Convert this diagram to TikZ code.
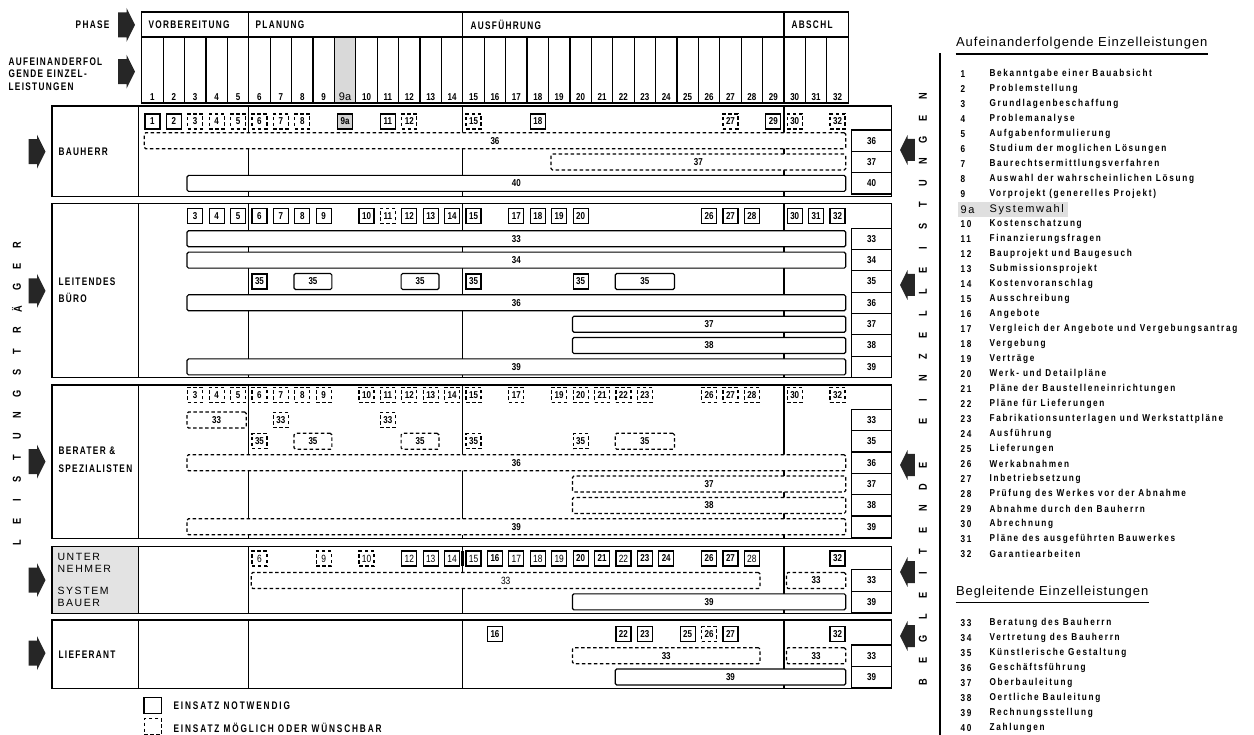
\documentclass[tikz,border=0pt]{standalone}
\usepackage{fontspec}
\setmainfont{Liberation Sans}
\newfontfamily\kopf[FakeStretch=0.75,LetterSpace=12]{Liberation Sans}
\newfontfamily\ziff[FakeStretch=0.8]{Liberation Sans}
\newfontfamily\liste[FakeStretch=0.82,LetterSpace=17]{Liberation Sans}
\newfontfamily\titel[LetterSpace=7.5]{Liberation Sans}
\newfontfamily\duenn[LetterSpace=15]{Liberation Sans}
\newcommand{\zf}{\ziff\bfseries\fontsize{10}{10}\selectfont}
\newcommand{\zd}{\ziff\fontsize{10.5}{10.5}\selectfont}
% bar over the columns #2..#3: style, first, last, y, label, name
\newcommand{\balken}[6]{\node[#1, minimum width={21.41*((#3)-(#2)+1)-5}] (#6) at ({141.7+21.41*((#2)+(#3)+1)/2}, #4) {#5};}
% section frame: top, bottom
\newcommand{\sektion}[2]{\draw (52,#1) rectangle (891.5,#2);
  \draw (138.3,#1) -- (138.3,#2);
  \foreach \i in {5,15,30} \draw ({lx(\i)},#1) -- ({lx(\i)},#2);}
\usetikzlibrary{positioning}
\begin{document}
\begin{tikzpicture}[x=1pt, y=-1pt, line width=1.2pt,
  declare function={lx(\i)=141.7+21.41*\i; sx(\i)=152.4+21.41*\i;},
  nb/.style={draw, fill=white, minimum width=15, minimum height=15, inner sep=1, font=\zf},
  mb/.style={nb, dash pattern=on 3.5pt off 2.5pt},
  gb/.style={nb, fill=gray!35},
  nbd/.style={nb, font=\zd},
  mbd/.style={mb, font=\zd},
  sb/.style={draw, fill=white, rounded corners=1.5pt, minimum height=16, inner sep=0, font=\zf},
  db/.style={sb, dash pattern=on 3.5pt off 2.5pt},
  dbd/.style={db, font=\zd},
  rb/.style={draw, fill=white, minimum width=40, minimum height=21.35, inner sep=0, font=\zf},
  kopftext/.style={inner sep=0, font=\kopf\bfseries\fontsize{11}{12.3}\selectfont},
  grptext/.style={inner sep=0, align=left, anchor=west, font=\kopf\bfseries\fontsize{11}{17}\selectfont},
  unttext/.style={inner sep=0, align=left, anchor=west, font=\duenn\fontsize{10.5}{12.3}\selectfont},
  nrtext/.style={inner sep=0, font=\zf},
  buchst/.style={rotate=90, inner sep=0, font=\ziff\bfseries\fontsize{11.5}{11.5}\selectfont},
  lnr/.style={anchor=west, inner sep=0, font=\liste\bfseries\fontsize{10}{10}\selectfont},
  ltx/.style={anchor=west, inner sep=0, font=\liste\bfseries\fontsize{10}{10}\selectfont},
  legtext/.style={kopftext, anchor=west, font=\kopf\bfseries\fontsize{11}{11}\selectfont\addfontfeatures{LetterSpace=17}},
  pfeil/.pic={\fill[black!85] (-8.5,-12.5) -- (0,-12.5) -- (0,-17) -- (8.5,0) -- (0,17) -- (0,12.5) -- (-8.5,12.5) -- cycle;}]
\useasboundingbox (0,0) rectangle (1254,735);

% header
\fill[gray!30] ({lx(9)},37) rectangle ({lx(10)},103);
\draw (141.7,12) rectangle (848.3,103);
\draw (141.7,37) -- (848.3,37);
\foreach \i in {1,...,32} \draw ({lx(\i)},37) -- ({lx(\i)},103);
\foreach \i in {5,15,30} \draw ({lx(\i)},12) -- ({lx(\i)},37);
\node[kopftext, anchor=west] (ph-vor) at (148,24.5) {VORBEREITUNG};
\node[kopftext, anchor=west] (ph-pla) at (255,24.5) {PLANUNG};
\node[kopftext, anchor=west] (ph-aus) at (470,24.5) {AUSFÜHRUNG};
\node[kopftext, anchor=west] (ph-abs) at (791,24.5) {ABSCHL};
\foreach \l in {1,...,9} \node[nrtext] (nr-\l) at ({sx(\l-1)},97) {\l};
\node[inner sep=0, font=\fontsize{11}{11}\selectfont] (nr-9a) at ({sx(9)},97) {9a};
\foreach \l in {10,...,32} \node[nrtext] (nr-\l) at ({sx(\l)},97) {\l};
\node[kopftext, anchor=east] (lb-phase) at (110,25) {PHASE};
\pic at (126.5,25) {pfeil};
\node[kopftext, anchor=west, align=left] (lb-folge) at (8,74) {AUFEINANDERFOL\\GENDE EINZEL-\\LEISTUNGEN};
\pic at (126.5,71.7) {pfeil};

% Bauherr
\sektion{106}{196.7}
\node[grptext] (g-bh) at (58,151.7) {BAUHERR};
\pic at (37,151.7) {pfeil};
\foreach \i/\l/\s in {0/1/nb, 1/2/nb, 2/3/mb, 3/4/mb, 4/5/mb, 5/6/mb, 6/7/mb, 7/8/mb,
  9/9a/gb, 11/11/nb, 12/12/mb, 15/15/mb, 18/18/nb, 27/27/mb, 29/29/nb, 30/30/mb, 32/32/mb}
  \node[\s] (bh-\i) at ({sx(\i)},121.5) {\l};
\balken{db}{0}{32}{140.7}{36}{bh-b36}
\balken{db}{19}{32}{162.05}{37}{bh-b37}
\balken{sb}{2}{32}{183.4}{40}{bh-b40}
\foreach \l [count=\k from 0] in {36,37,40} \node[rb] (bh-r\l) at (871.5,{140.7+21.35*\k}) {\l};

% Leitendes Buero
\sektion{203.3}{377.7}
\node[grptext] (g-lb) at (58,290.6) {LEITENDES\\BÜRO};
\pic at (37,291) {pfeil};
\foreach \i/\l/\s in {2/3/nb, 3/4/nb, 4/5/nb, 5/6/nb, 6/7/nb, 7/8/nb, 8/9/nb, 10/10/nb, 11/11/mb,
  12/12/nb, 13/13/nb, 14/14/nb, 15/15/nb, 17/17/nb, 18/18/nb, 19/19/nb, 20/20/nb,
  26/26/nb, 27/27/nb, 28/28/nb, 30/30/nb, 31/31/nb, 32/32/nb}
  \node[\s] (lb-\i) at ({sx(\i)},216) {\l};
\balken{sb}{2}{32}{238.8}{33}{lb-b33}
\balken{sb}{2}{32}{260.15}{34}{lb-b34}
\foreach \i in {5,15,20} \node[nb] (lb-k35-\i) at ({sx(\i)},281.5) {35};
\balken{sb}{7}{8}{281.5}{35}{lb-w35a}
\balken{sb}{12}{13}{281.5}{35}{lb-w35b}
\balken{sb}{22}{24}{281.5}{35}{lb-w35c}
\balken{sb}{2}{32}{302.85}{36}{lb-b36}
\balken{sb}{20}{32}{324.2}{37}{lb-b37}
\balken{sb}{20}{32}{345.55}{38}{lb-b38}
\balken{sb}{2}{32}{366.9}{39}{lb-b39}
\foreach \l [count=\k from 0] in {33,34,35,36,37,38,39} \node[rb] (lb-r\l) at (871.5,{238.8+21.35*\k}) {\l};

% Berater und Spezialisten
\sektion{385}{538.3}
\node[grptext, font=\kopf\bfseries\fontsize{11}{18}\selectfont] (g-bs) at (58,460) {BERATER \&\\SPEZIALISTEN};
\pic at (37,461.7) {pfeil};
\foreach \i/\l in {2/3, 3/4, 4/5, 5/6, 6/7, 7/8, 8/9, 10/10, 11/11, 12/12, 13/13, 14/14, 15/15,
  17/17, 19/19, 20/20, 21/21, 22/22, 23/23, 26/26, 27/27, 28/28, 30/30, 32/32}
  \node[mb] (bs-\i) at ({sx(\i)},395) {\l};
\balken{db}{2}{4}{420}{33}{bs-w33}
\foreach \i in {6,11} \node[mb] (bs-k33-\i) at ({sx(\i)},420) {33};
\foreach \i in {5,15,20} \node[mb] (bs-k35-\i) at ({sx(\i)},441.35) {35};
\balken{db}{7}{8}{441.35}{35}{bs-w35a}
\balken{db}{12}{13}{441.35}{35}{bs-w35b}
\balken{db}{22}{24}{441.35}{35}{bs-w35c}
\balken{db}{2}{32}{462.7}{36}{bs-b36}
\balken{db}{20}{32}{484.05}{37}{bs-b37}
\balken{db}{20}{32}{505.4}{38}{bs-b38}
\balken{db}{2}{32}{526.75}{39}{bs-b39}
\foreach \l [count=\k from 0] in {33,35,36,37,38,39} \node[rb] (bs-r\l) at (871.5,{420+21.35*\k}) {\l};

% Unternehmer / Systembauer
\fill[gray!22] (52,546.7) rectangle (138.3,613.3);
\sektion{546.7}{613.3}
\node[unttext] (g-un) at (57,563) {UNTER\\NEHMER};
\node[unttext] (g-sy) at (57,597.2) {SYSTEM\\BAUER};
\pic at (37,580) {pfeil};
\foreach \i/\l/\s in {5/6/mbd, 8/9/mbd, 10/10/mbd, 12/12/nbd, 13/13/nbd, 14/14/nbd, 15/15/nbd,
  16/16/nb, 17/17/nbd, 18/18/nbd, 19/19/nbd, 20/20/nb, 21/21/nb, 22/22/nbd, 23/23/nb, 24/24/nb,
  26/26/nb, 27/27/nb, 28/28/nbd, 32/32/nb}
  \node[\s] (un-\i) at ({sx(\i)},558.5) {\l};
\draw[line width=3] ({lx(15)},551) -- ({lx(15)},566);
\balken{dbd}{5}{28}{580.5}{33}{un-b33a}
\balken{db}{30}{32}{580.5}{33}{un-b33b}
\balken{sb}{20}{32}{601.85}{39}{un-b39}
\foreach \l [count=\k from 0] in {33,39} \node[rb] (un-r\l) at (871.5,{580.5+21.35*\k}) {\l};

% Lieferant
\sektion{620}{688.3}
\node[grptext] (g-li) at (58,654.3) {LIEFERANT};
\pic at (37,653) {pfeil};
\foreach \i/\l/\s in {16/16/nb, 22/22/nb, 23/23/nb, 25/25/nb, 26/26/mb, 27/27/nb, 32/32/nb}
  \node[\s] (li-\i) at ({sx(\i)},634) {\l};
\balken{db}{20}{28}{655.7}{33}{li-b33a}
\balken{db}{30}{32}{655.7}{33}{li-b33b}
\balken{sb}{22}{32}{677.05}{39}{li-b39}
\foreach \l [count=\k from 0] in {33,39} \node[rb] (li-r\l) at (871.5,{655.7+21.35*\k}) {\l};

% legend
\node[draw, minimum width=17.5, minimum height=15.5, inner sep=0] (lg-nb) at (152.8,705.5) {};
\node[legtext] (lg-nbt) at (173,706) {EINSATZ NOTWENDIG};
\node[draw, dash pattern=on 3.5pt off 2.5pt, minimum width=17, minimum height=16, inner sep=0] (lg-mb) at (152.8,726.5) {};
\node[legtext] (lg-mbt) at (173,727.7) {EINSATZ MÖGLICH ODER WÜNSCHBAR};

% side letters
\foreach \c [count=\k from 0] in {L,E,I,S,T,U,N,G,S,T,R,Ä,G,E,R}
  \node[buchst] (ls-\k) at (17,{543-21.3*\k}) {\c};
\foreach \c [count=\k from 0] in {B,E,G,L,E,I,T,E,N,D,E}
  \node[buchst] (bl-\k) at (923,{682-21.68*\k}) {\c};
\foreach \c [count=\k from 12] in {E,I,N,Z,E,L,L,E,I,S,T,U,N,G,E,N}
  \node[buchst] (el-\k) at (923,{682-21.68*\k}) {\c};
\foreach \y in {150,285,465,572,636} \pic[xscale=-1, scale=0.88] at (907.5,\y) {pfeil};

% list of single tasks
\draw (940,53.3) -- (940,735);
\node[anchor=west, inner sep=0, font=\titel\fontsize{13}{13}\selectfont] (t-folge) at (955.5,43.3) {Aufeinanderfolgende Einzelleistungen};
\draw ([yshift=-4pt]t-folge.south west) -- ([yshift=-4pt]t-folge.south east);
\foreach \n/\t in {1/Bekanntgabe einer Bauabsicht, 2/Problemstellung, 3/Grundlagenbeschaffung,
  4/Problemanalyse, 5/Aufgabenformulierung, 6/Studium der moglichen Lösungen,
  7/Baurechtsermittlungsverfahren, 8/Auswahl der wahrscheinlichen Lösung,
  9/Vorprojekt (generelles Projekt)}
  {\node[lnr] (ln-\n) at (960,{74+15*(\n-1)}) {\n};
   \node[ltx] (lt-\n) at (989,{74+15*(\n-1)}) {\t};}
\fill[gray!25] (958,202.5) rectangle (1068,217.5);
\node[anchor=west, inner sep=0, font=\duenn\fontsize{11}{11}\selectfont] (ln-9a) at (960,209.5) {9a};
\node[anchor=west, inner sep=0, font=\duenn\fontsize{11}{11}\selectfont] (lt-9a) at (989,209.5) {Systemwahl};
\foreach \n/\t in {10/Kostenschatzung, 11/Finanzierungsfragen, 12/Bauprojekt und Baugesuch,
  13/Submissionsprojekt, 14/Kostenvoranschlag, 15/Ausschreibung, 16/Angebote,
  17/Vergleich der Angebote und Vergebungsantrag, 18/Vergebung, 19/Verträge,
  20/Werk- und Detailpläne, 21/Pläne der Baustelleneinrichtungen, 22/Pläne für Lieferungen,
  23/Fabrikationsunterlagen und Werkstattpläne, 24/Ausführung, 25/Lieferungen,
  26/Werkabnahmen, 27/Inbetriebsetzung, 28/Prüfung des Werkes vor der Abnahme,
  29/Abnahme durch den Bauherrn, 30/Abrechnung, 31/Pläne des ausgeführten Bauwerkes,
  32/Garantiearbeiten}
  {\node[lnr] (ln-\n) at (960,{74+15*\n}) {\n};
   \node[ltx] (lt-\n) at (989,{74+15*\n}) {\t};}
\node[anchor=west, inner sep=0, font=\titel\fontsize{13}{13}\selectfont] (t-begl) at (955.5,591.7) {Begleitende Einzelleistungen};
\draw ([yshift=-4pt]t-begl.south west) -- ([yshift=-4pt]t-begl.south east);
\foreach \n/\t in {33/Beratung des Bauherrn, 34/Vertretung des Bauherrn, 35/Künstlerische Gestaltung,
  36/Geschäftsführung, 37/Oberbauleitung, 38/Oertliche Bauleitung, 39/Rechnungsstellung,
  40/Zahlungen}
  {\node[lnr] (ln-\n) at (960,{623.3+15*(\n-33)}) {\n};
   \node[ltx] (lt-\n) at (989,{623.3+15*(\n-33)}) {\t};}
\end{tikzpicture}
\end{document}
